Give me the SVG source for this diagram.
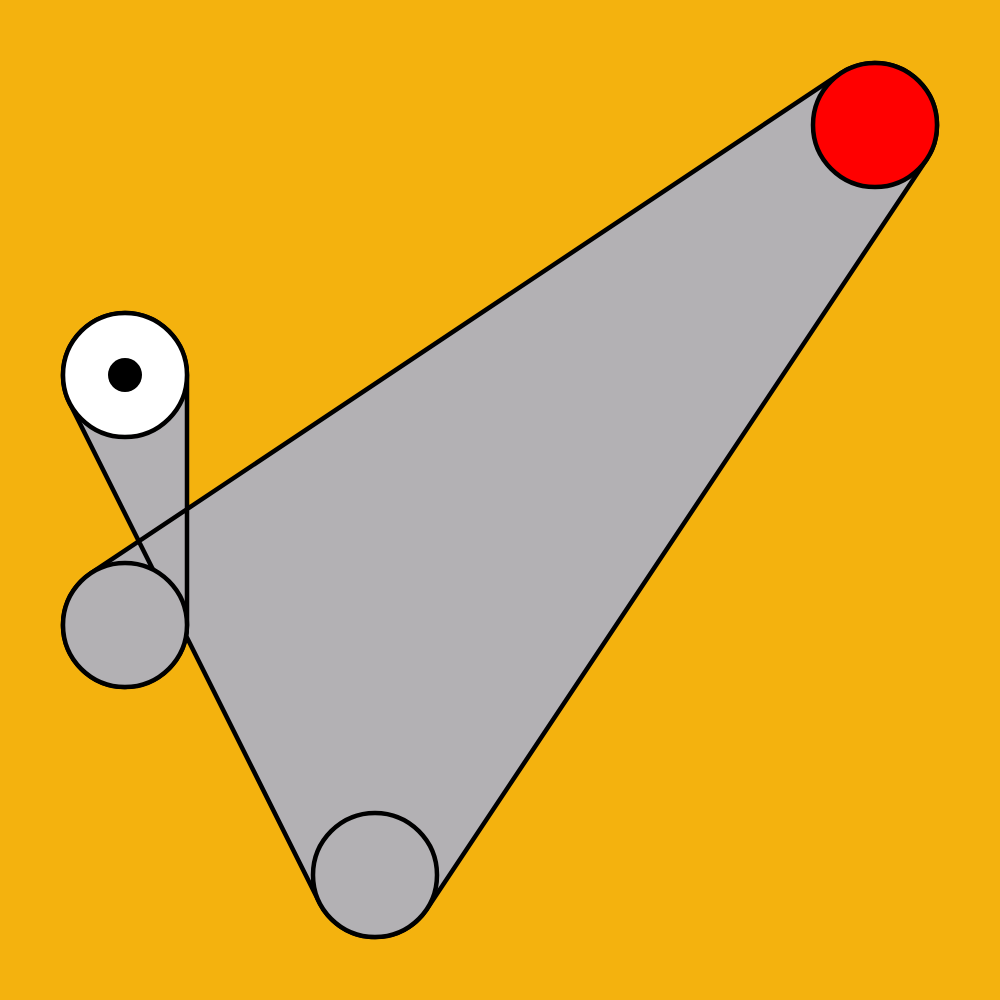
<svg xmlns="http://www.w3.org/2000/svg" width="1000" height="1000" viewBox="0 0 1000 1000">
<style>
.pulley{stroke:#000;stroke-width:4.5}
.belt{fill:#B3B1B4;fill-rule:nonzero;stroke:#000;stroke-width:4.5;stroke-linejoin:round}
</style>
<rect width="1000" height="1000" fill="#F4B20E"/>
<g id="connectors">
<path class="belt" d="M187,375 L187,625 A62,62 0 1 1 90.61,573.41 L840.61,73.41 A62,62 0 0 1 926.59,159.39 L426.59,909.39 A62,62 0 0 1 319.54,902.73 L69.54,402.73 A62,62 0 1 1 187,375 Z"/>
</g>
<g id="pulley-white">
<circle class="pulley" cx="125" cy="375" r="62" fill="#FFFFFF"/>
<circle cx="125" cy="375" r="17" fill="#000"/>
</g>
<g id="pulley-mid">
<circle class="pulley" cx="125" cy="625" r="62" fill="#B3B1B4"/>
</g>
<g id="pulley-bottom">
<circle class="pulley" cx="375" cy="875" r="62" fill="#B3B1B4"/>
</g>
<g id="pulley-red">
<circle class="pulley" cx="875" cy="125" r="62" fill="#FF0000"/>
</g>
</svg>
